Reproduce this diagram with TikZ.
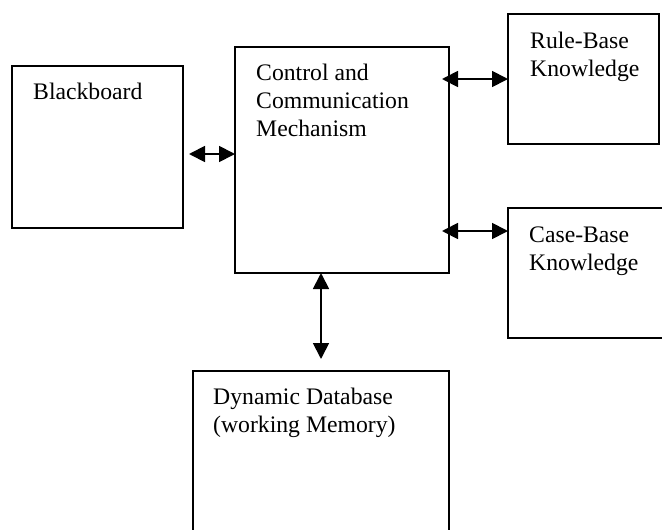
\documentclass[tikz,border=0pt]{standalone}
\usepackage{fontspec}
\setmainfont{Liberation Serif}
\usetikzlibrary{arrows.meta}
\begin{document}
\begin{tikzpicture}[x=1pt,y=-1pt,
  box/.style={draw,line width=1.8pt,rectangle,inner sep=0pt,outer sep=0pt},
  lbl/.style={anchor=north west,inner sep=0pt,align=left,font=\fontsize{23.7}{28}\selectfont},
  arr/.style={line width=1.8pt,{Triangle[length=16pt,width=16pt]}-{Triangle[length=16pt,width=16pt]}}]
\useasboundingbox (0,0) rectangle (662,530);
\clip (0,0) rectangle (662,530);
\fill[white] (0,0) rectangle (662,530);
% boxes
\node[box,minimum width=171pt,minimum height=162pt] (bb) at (97.5,147) {};
\node[box,minimum width=214pt,minimum height=226pt] (ctrl) at (342,160) {};
\node[box,minimum width=151pt,minimum height=130pt] (rule) at (583.5,79) {};
\node[box,minimum width=192pt,minimum height=130pt] (case) at (604,273) {};
\node[box,minimum width=256pt,minimum height=189pt] (dyn) at (321,465.5) {};
% labels
\node[lbl] (tbb) at (33,83) {Blackboard};
\node[lbl] (tctrl) at (256,64) {Control and\\Communication\\Mechanism};
\node[lbl] (trule) at (530,32) {Rule-Base\\Knowledge};
\node[lbl] (tcase) at (529,227) {Case-Base\\Knowledge};
\node[lbl] (tdyn) at (213,388) {Dynamic Database\\(working Memory)};
% connectors
\draw[arr] ([shift={(6,7)}]bb.east) -- ([shift={(0,7)}]bb.east -| ctrl.west);
\draw[arr] ([shift={(-7,0)}]ctrl.east |- rule.west) -- (rule.west);
\draw[arr] ([shift={(-7,-42)}]ctrl.east |- case.west) -- ([shift={(0,-42)}]case.west);
\draw[arr] (dyn.north |- ctrl.south) -- ([shift={(0,-12)}]dyn.north);
\end{tikzpicture}
\end{document}
